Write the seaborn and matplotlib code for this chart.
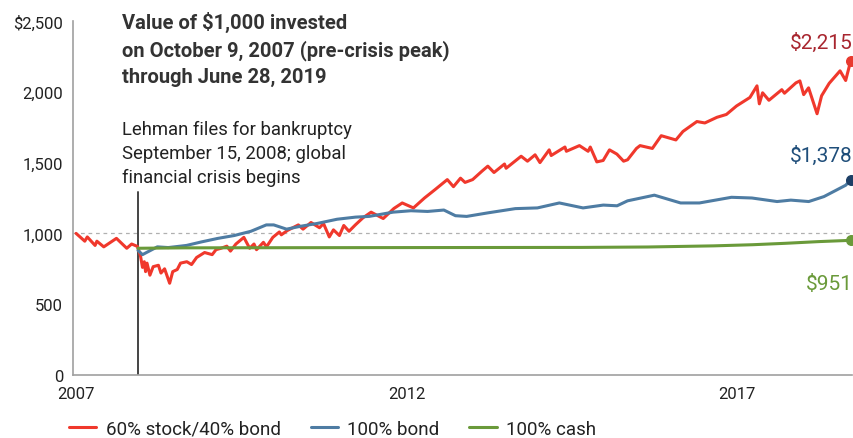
import pandas as pd
import matplotlib.pyplot as plt
import seaborn as sns

# 60% stock / 40% bond
red_dates = ["2007-10-09", "2007-10-31", "2007-11-26", "2007-12-10", "2008-01-22", "2008-02-01",
             "2008-03-10", "2008-05-19", "2008-07-15", "2008-08-11", "2008-09-12", "2008-09-29",
             "2008-10-10", "2008-10-20", "2008-10-27", "2008-11-04", "2008-11-20", "2008-12-08",
             "2009-01-06", "2009-01-20", "2009-02-09", "2009-03-09", "2009-03-26", "2009-04-20",
             "2009-05-08", "2009-06-12", "2009-07-08", "2009-08-05", "2009-09-18", "2009-10-30",
             "2009-11-20", "2009-12-18", "2010-01-19", "2010-02-08", "2010-03-10", "2010-04-23",
             "2010-05-25", "2010-06-18", "2010-07-02", "2010-08-09", "2010-08-26", "2010-09-30",
             "2010-11-05", "2010-11-16", "2010-12-20", "2011-02-18", "2011-03-16", "2011-04-29",
             "2011-06-15", "2011-07-07", "2011-08-08", "2011-08-31", "2011-10-03", "2011-10-27",
             "2011-11-25", "2011-12-30", "2012-02-10", "2012-03-26", "2012-06-01", "2012-07-30",
             "2012-09-14", "2012-11-15", "2013-01-15", "2013-03-15", "2013-05-21", "2013-06-24",
             "2013-08-02", "2013-08-27", "2013-10-08", "2013-11-29", "2013-12-31", "2014-02-03",
             "2014-04-02", "2014-04-11", "2014-07-03", "2014-08-07", "2014-09-18", "2014-10-15",
             "2014-12-05", "2014-12-16", "2015-03-02", "2015-03-10", "2015-05-21", "2015-07-08",
             "2015-07-20", "2015-08-25", "2015-09-29", "2015-11-03", "2015-12-14", "2016-01-20",
             "2016-02-11", "2016-03-31", "2016-04-20", "2016-06-27", "2016-08-15", "2016-11-04",
             "2016-12-13", "2017-02-28", "2017-04-13", "2017-06-19", "2017-08-10", "2017-10-05",
             "2017-12-18", "2018-01-26", "2018-02-08", "2018-02-26", "2018-04-02", "2018-06-12",
             "2018-06-27", "2018-08-29", "2018-09-20", "2018-10-11", "2018-11-07", "2018-12-24",
             "2019-01-18", "2019-03-01", "2019-04-30", "2019-05-31", "2019-06-20", "2019-06-28"]
red_vals = [1000, 975, 945, 975, 915, 945,
            905, 965, 895, 925, 908, 840,
            760, 800, 730, 790, 705, 765,
            775, 720, 750, 648, 730, 745,
            790, 800, 780, 830, 865, 850,
            885, 895, 910, 875, 925, 972,
            895, 925, 885, 937, 905, 972,
            1010, 990, 1021, 1060, 1030, 1077,
            1040, 1070, 975, 1025, 985, 1056,
            1015, 1060, 1110, 1150, 1105, 1176,
            1215, 1180, 1250, 1310, 1380, 1330,
            1390, 1360, 1380, 1440, 1475, 1430,
            1490, 1460, 1545, 1510, 1555, 1500,
            1590, 1550, 1610, 1580, 1620, 1580,
            1610, 1505, 1515, 1590, 1560, 1510,
            1520, 1600, 1620, 1600, 1690, 1660,
            1720, 1790, 1780, 1820, 1840, 1900,
            1960, 2042, 1915, 1993, 1940, 2015,
            1990, 2063, 2077, 1980, 2028, 1845,
            1972, 2060, 2148, 2080, 2180, 2215]

# 100% bond
blue_dates = ["2008-09-15", "2008-10-10", "2008-11-01", "2008-12-31", "2009-03-01", "2009-06-10",
              "2009-09-01", "2009-12-01", "2010-03-01", "2010-06-01", "2010-08-25", "2010-10-05",
              "2010-12-15", "2011-03-01", "2011-06-01", "2011-09-20", "2011-12-31", "2012-03-15",
              "2012-07-25", "2012-11-01", "2013-02-01", "2013-05-02", "2013-07-05", "2013-09-05",
              "2013-12-31", "2014-06-01", "2014-10-01", "2015-01-30", "2015-06-10", "2015-09-30",
              "2015-12-15", "2016-02-11", "2016-07-08", "2016-11-30", "2017-03-14", "2017-09-07",
              "2017-12-29", "2018-05-17", "2018-08-01", "2018-11-08", "2019-01-31", "2019-04-01",
              "2019-05-31", "2019-06-28"]
blue_vals = [880, 850, 865, 905, 900, 915,
             940, 965, 985, 1015, 1060, 1060,
             1030, 1050, 1070, 1100, 1115, 1120,
             1150, 1160, 1155, 1165, 1125, 1120,
             1145, 1175, 1180, 1215, 1180, 1200,
             1195, 1230, 1270, 1215, 1215, 1255,
             1250, 1225, 1235, 1225, 1260, 1300,
             1340, 1378]

# 100% cash
green_dates = ["2008-09-15", "2009-06-01", "2011-01-01", "2013-01-01", "2015-06-01", "2016-06-01",
               "2017-06-01", "2018-01-01", "2018-07-01", "2019-01-01", "2019-06-28"]
green_vals = [895, 898, 899, 900, 901, 904, 912, 920, 930, 942, 951]

series_names = ["60% stock/40% bond", "100% bond", "100% cash"]
end_labels = ["$2,215", "$1,378", "$951"]
y_ticks = [0, 500, 1000, 1500, 2000, 2500]
y_labels = ["0", "500", "1,000", "1,500", "2,000", "$2,500"]
x_ticks = ["2007-10-09", "2012-10-09", "2017-10-09"]
x_labels = ["2007", "2012", "2017"]
lehman_date = "2008-09-15"

line_colors = ["#f0382c", "#4e7ca3", "#6a9a3a"]
dot_colors = ["#e8392e", "#1d3f66", "#6a9a3a"]
label_colors = ["#a8262f", "#1f4e7a", "#6a9a3a"]

sns.set_style("white")
plt.rcParams['font.family'] = ['Roboto', 'DejaVu Sans']

fig = plt.figure(figsize=(8.54, 4.39), dpi=100)
ax = fig.add_axes([73 / 854, 1 - 376 / 439, (852 - 73) / 854, (376 - 22) / 439])

frames = [
    pd.DataFrame({"date": pd.to_datetime(red_dates), "value": red_vals}),
    pd.DataFrame({"date": pd.to_datetime(blue_dates), "value": blue_vals}),
    pd.DataFrame({"date": pd.to_datetime(green_dates), "value": green_vals}),
]

ax.axhline(1000, color="#b0b0b0", lw=0.9, ls=(0, (3, 3)), zorder=1)
ax.axvline(pd.Timestamp(lehman_date), ymin=0, ymax=1290 / 2500, color="#444444", lw=1.4, zorder=2)

handles = []
for df, name, lc, dc in zip(frames, series_names, line_colors, dot_colors):
    sns.lineplot(data=df, x="date", y="value", ax=ax, color=lc, lw=2.2, zorder=3)
    handles.append(ax.lines[-1])
    last = df.iloc[-1]
    ax.scatter([last["date"]], [last["value"]], s=48, color=dc, zorder=5, clip_on=False)

ax.set_xlim(pd.Timestamp("2007-09-22"), pd.Timestamp("2019-07-05"))
ax.set_ylim(0, 2500)
ax.set_yticks(y_ticks)
ax.set_yticklabels(y_labels)
ax.set_xticks(pd.to_datetime(x_ticks))
ax.set_xticklabels(x_labels)
ax.set_xlabel("")
ax.set_ylabel("")
ax.tick_params(axis="both", length=0, labelsize=12, labelcolor="#222222")
ax.tick_params(axis="y", pad=7)
ax.tick_params(axis="x", pad=8)
sns.despine(ax=ax)
for side in ["left", "bottom"]:
    ax.spines[side].set_color("#a0a0a0")
    ax.spines[side].set_linewidth(1.2)

fig.text(122 / 854, 1 - 12 / 439,
         "Value of $1,000 invested\non October 9, 2007 (pre-crisis peak)\nthrough June 28, 2019",
         fontsize=14.5, fontweight="bold", color="#333333", va="top", ha="left", linespacing=1.45)
fig.text(122 / 854, 1 - 121 / 439,
         "Lehman files for bankruptcy\nSeptember 15, 2008; global\nfinancial crisis begins",
         fontsize=13.3, color="#222222", va="top", ha="left", linespacing=1.42)

label_y = [43, 156, 284]
for txt, col, yy in zip(end_labels, label_colors, label_y):
    fig.text(853 / 854, 1 - yy / 439, txt, fontsize=15, color=col, ha="right", va="center")

fig.legend(handles, series_names, loc="center left", bbox_to_anchor=(69 / 854, 1 - 430 / 439),
           ncol=3, frameon=False, fontsize=13.5, handlelength=1.45, columnspacing=1.6,
           handletextpad=0.5, borderpad=0, borderaxespad=0, labelcolor="#222222")

fig.savefig("out.png", dpi=100)
